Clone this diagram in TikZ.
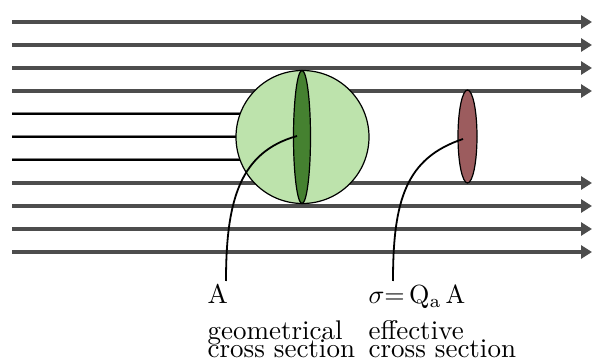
\documentclass[tikz,border=0pt]{standalone}
\usetikzlibrary{arrows.meta,shapes.geometric}
\definecolor{raygray}{RGB}{77,77,77}
\definecolor{lightgreen}{RGB}{189,227,172}
\definecolor{darkgreen}{RGB}{69,129,48}
\definecolor{effred}{RGB}{156,92,94}
\begin{document}
\begin{tikzpicture}[x=1pt,y=-1pt,
  ray/.style={draw=raygray, line width=4.5pt, -{Triangle[length=11pt,width=13pt]}},
  blockedhalo/.style={draw=raygray!70, line width=3pt},
  blocked/.style={draw=black, line width=1.6pt},
  outline/.style={draw=black, line width=1.2pt},
  pointer/.style={draw=black, line width=1.8pt},
  lbl/.style={font=\fontsize{10}{12}\selectfont, scale=2.7, inner sep=0pt, anchor=base west}]
\useasboundingbox (0,0) rectangle (592,363);
\foreach \y in {22,45,68,91,183,206,229,252} {
  \coordinate (s\y) at (12,\y);
  \coordinate (e\y) at (592,\y);
  \draw[ray] (s\y) -- (e\y);
}
\foreach \y in {114,137,160} {
  \coordinate (bs\y) at (12,\y);
  \coordinate (be\y) at (262,\y);
  \draw[blockedhalo] (bs\y) -- (be\y);
  \draw[blocked] (bs\y) -- (be\y);
}
\node[circle, outline, fill=lightgreen, minimum size=133pt, inner sep=0pt] (sphere) at (302.5,137) {};
\node[ellipse, outline, fill=darkgreen, minimum width=17pt, minimum height=133pt, inner sep=0pt] (geo) at (302,137) {};
\node[ellipse, outline, fill=effred, minimum width=19pt, minimum height=93pt, inner sep=0pt] (eff) at (467.5,136.5) {};
\node[lbl] (A) at (207,303.5) {A};
\node[lbl, scale=0.97] (sigma) at (368,303.5) {$\sigma{=}\,\mathrm{Q_a\,A}$};
\node[lbl] (geotxt1) at (207,340) {geometrical};
\node[lbl] (geotxt2) at (207,357.5) {cross section};
\node[lbl] (efftxt1) at (368,340) {effective};
\node[lbl] (efftxt2) at (368,357.5) {cross section};
\coordinate (pA) at (226,281);
\coordinate (pS) at (393,281);
\coordinate (gA) at (297,136);
\coordinate (eA) at (463,139);
\draw[pointer] (gA) .. controls (240,152) and (226,200) .. (pA);
\draw[pointer] (eA) .. controls (406,158) and (393,200) .. (pS);
\end{tikzpicture}
\end{document}
